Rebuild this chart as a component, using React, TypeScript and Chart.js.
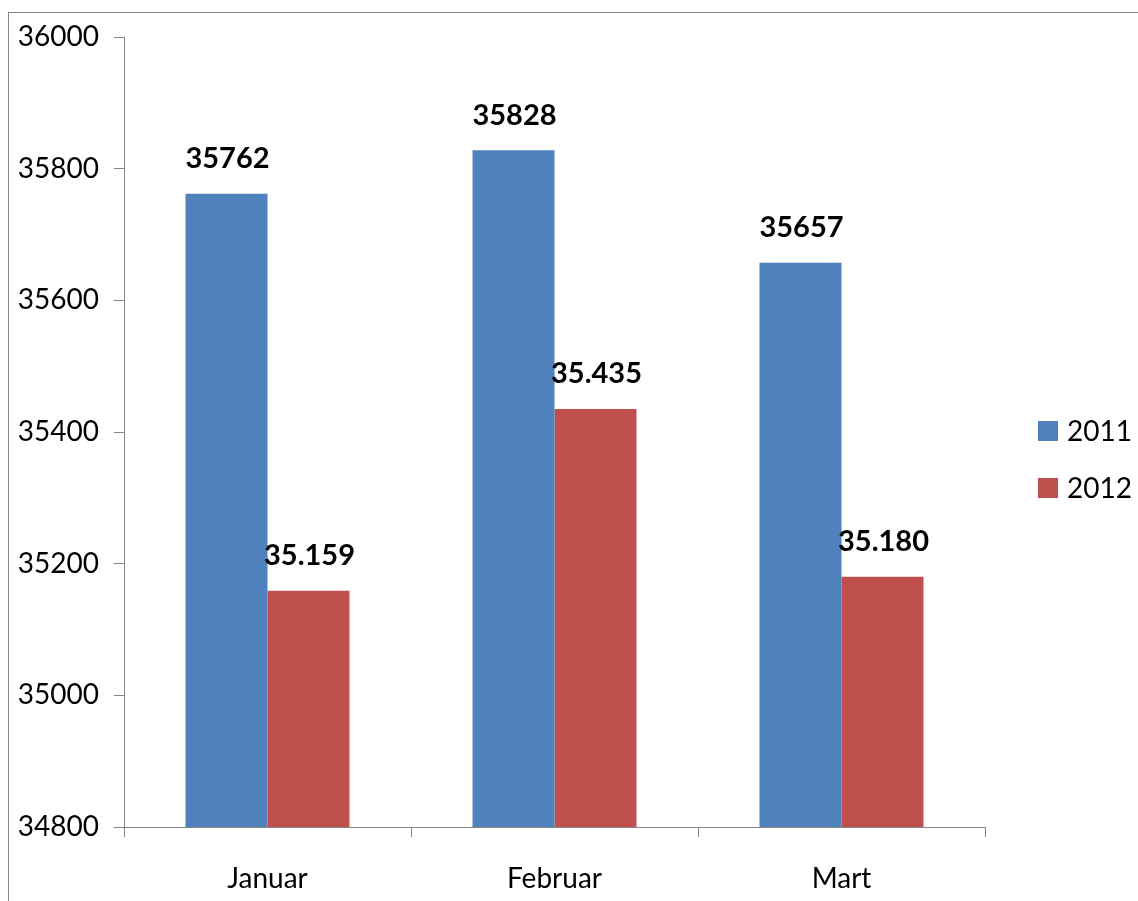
import React, { useEffect, useRef } from "react";
import { Chart, registerables } from "chart.js";

Chart.register(...registerables);

const categories = ["Januar", "Februar", "Mart"];
const seriesNames = ["2011", "2012"];
const values2011 = [35762, 35828, 35657];
const values2012 = [35159, 35435, 35180];
const seriesColors = ["#4F81BD", "#C0504D"];
const yMin = 34800;
const yMax = 36000;
const yStep = 200;

const FONT = "Lato, 'Open Sans', sans-serif";
const AXIS = "#868686";

function fmtPlain(v: number) {
  return String(v);
}
function fmtDot(v: number) {
  return String(v).replace(/\B(?=(\d{3})+(?!\d))/g, ".");
}
const formatters = [fmtPlain, fmtDot];

const borderPlugin = {
  id: "outerBorder",
  beforeDraw(chart: any) {
    const ctx = chart.ctx;
    ctx.save();
    ctx.fillStyle = "#fff";
    ctx.fillRect(0, 0, chart.width, chart.height);
    ctx.strokeStyle = AXIS;
    ctx.lineWidth = 1;
    ctx.strokeRect(8.5, 12.5, chart.width + 20, chart.height + 20);
    ctx.restore();
  },
};

const labelsPlugin = {
  id: "barLabels",
  afterDatasetsDraw(chart: any) {
    const ctx = chart.ctx;
    ctx.save();
    ctx.font = `bold 29px ${FONT}`;
    ctx.fillStyle = "#000";
    ctx.textAlign = "center";
    ctx.textBaseline = "middle";
    chart.data.datasets.forEach((ds: any, di: number) => {
      const meta = chart.getDatasetMeta(di);
      meta.data.forEach((bar: any, i: number) => {
        ctx.fillText(formatters[di](ds.data[i]), bar.x + 1, bar.y - 35);
      });
    });
    ctx.restore();
  },
};

const legendPlugin = {
  id: "customLegend",
  afterDraw(chart: any) {
    const ctx = chart.ctx;
    ctx.save();
    ctx.font = `28px ${FONT}`;
    ctx.textAlign = "left";
    ctx.textBaseline = "middle";
    chart.data.datasets.forEach((ds: any, di: number) => {
      const cy = 431 + di * 57;
      ctx.fillStyle = ds.backgroundColor;
      ctx.fillRect(1038, cy - 10, 20, 20);
      ctx.fillStyle = "#000";
      ctx.fillText(ds.label, 1067, cy + 1);
    });
    ctx.restore();
  },
};

export default function App() {
  const ref = useRef<HTMLCanvasElement>(null);
  useEffect(() => {
    document.body.style.margin = "0";
    const canvas = ref.current!;
    const chart = new Chart(canvas, {
      type: "bar",
      data: {
        labels: categories,
        datasets: [
          { label: seriesNames[0], data: values2011, backgroundColor: seriesColors[0], borderWidth: 0 },
          { label: seriesNames[1], data: values2012, backgroundColor: seriesColors[1], borderWidth: 0 },
        ],
      },
      options: {
        responsive: false,
        animation: false,
        devicePixelRatio: 1,
        layout: { padding: { left: 0, top: 37, right: 153, bottom: 0 } },
        datasets: { bar: { categoryPercentage: 0.5714, barPercentage: 1 } },
        plugins: { legend: { display: false }, tooltip: { enabled: false } },
        scales: {
          x: {
            afterFit(scale: any) {
              scale.height = 74;
            },
            grid: {
              display: true,
              drawOnChartArea: false,
              drawTicks: true,
              tickLength: 10,
              color: AXIS,
            },
            border: { display: true, color: AXIS, width: 1 },
            ticks: { color: "#000", font: { family: FONT, size: 28 }, padding: 25 },
          },
          y: {
            min: yMin,
            max: yMax,
            afterFit(scale: any) {
              scale.width = 124;
            },
            grid: {
              display: true,
              drawOnChartArea: false,
              drawTicks: true,
              tickLength: 10,
              color: AXIS,
            },
            border: { display: true, color: AXIS, width: 1 },
            ticks: {
              stepSize: yStep,
              color: "#000",
              font: { family: FONT, size: 28 },
              padding: 15,
              callback: (v: any) => String(v),
            },
          },
        },
      },
      plugins: [borderPlugin, labelsPlugin, legendPlugin],
    });
    return () => chart.destroy();
  }, []);
  return <canvas ref={ref} width={1138} height={901} style={{ display: "block" }} />;
}
